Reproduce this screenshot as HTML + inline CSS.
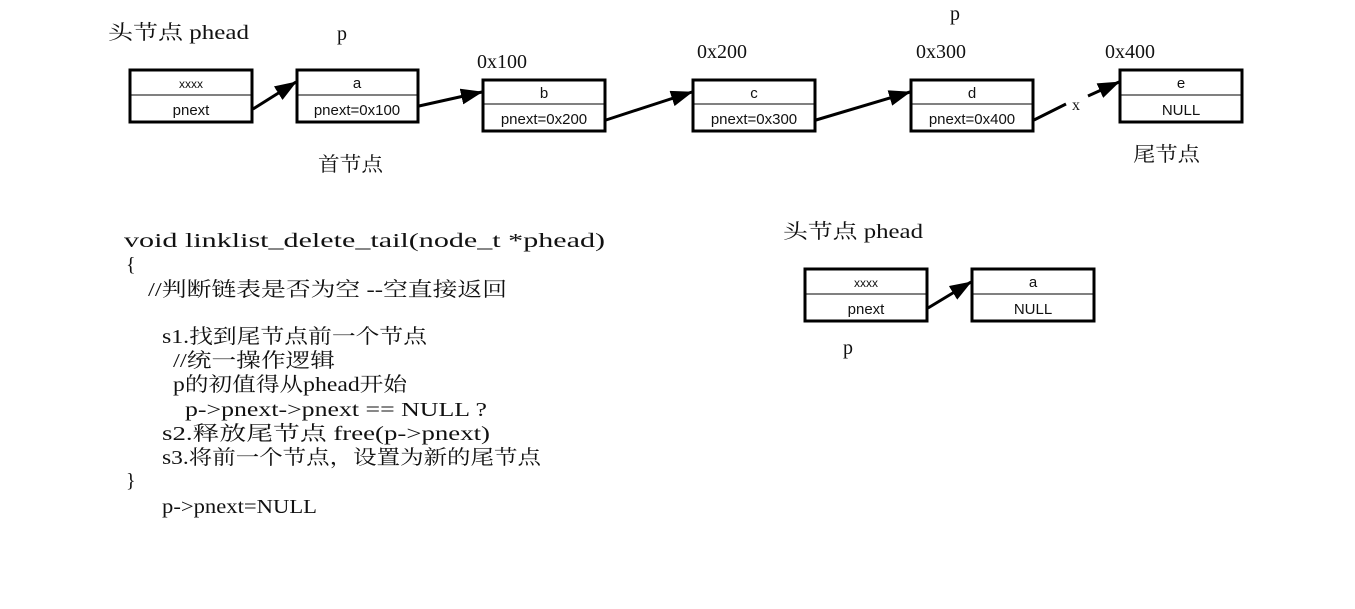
<!DOCTYPE html>
<html><head><meta charset="utf-8"><style>
html,body{margin:0;padding:0;background:#fff;}
svg{display:block;}
.s{font-family:"Liberation Serif","Noto Serif CJK SC",serif;fill:#111;}
.b{font-family:"Liberation Sans",sans-serif;fill:#111;font-size:15px;}
</style></head><body>
<svg width="1355" height="609" viewBox="0 0 1355 609" xmlns="http://www.w3.org/2000/svg">
<defs><marker id="ah" markerWidth="10" markerHeight="8" refX="9" refY="4" orient="auto" markerUnits="userSpaceOnUse" viewBox="0 0 10 8"><path d="M0,0 L10,4 L0,8 z" fill="#000"/></marker>
<marker id="ah2" markerWidth="22" markerHeight="16" refX="21" refY="8" orient="auto" markerUnits="userSpaceOnUse" viewBox="0 0 22 16"><path d="M0,0 L22,8 L0,16 z" fill="#000"/></marker></defs>
<g fill="none" stroke="#000">
<rect x="130" y="70" width="122" height="52" stroke-width="3"/><line x1="130" y1="95" x2="252" y2="95"/>
<rect x="297" y="70" width="121" height="52" stroke-width="3"/><line x1="297" y1="95" x2="418" y2="95"/>
<rect x="483" y="80" width="122" height="51" stroke-width="3"/><line x1="483" y1="104" x2="605" y2="104"/>
<rect x="693" y="80" width="122" height="51" stroke-width="3"/><line x1="693" y1="104" x2="815" y2="104"/>
<rect x="911" y="80" width="122" height="51" stroke-width="3"/><line x1="911" y1="104" x2="1033" y2="104"/>
<rect x="1120" y="70" width="122" height="52" stroke-width="3"/><line x1="1120" y1="95" x2="1242" y2="95"/>
<rect x="805" y="269" width="122" height="52" stroke-width="3"/><line x1="805" y1="294" x2="927" y2="294"/>
<rect x="972" y="269" width="122" height="52" stroke-width="3"/><line x1="972" y1="294" x2="1094" y2="294"/>
<g stroke-width="3">
<line x1="253" y1="109" x2="296" y2="82" marker-end="url(#ah2)"/>
<line x1="419" y1="106" x2="482" y2="92" marker-end="url(#ah2)"/>
<line x1="606" y1="120" x2="692" y2="92" marker-end="url(#ah2)"/>
<line x1="816" y1="120" x2="910" y2="92" marker-end="url(#ah2)"/>
<line x1="1034" y1="120" x2="1066" y2="104"/>
<line x1="1088" y1="96" x2="1119" y2="82" marker-end="url(#ah2)"/>
<line x1="928" y1="308" x2="971" y2="282" marker-end="url(#ah2)"/>
</g></g>
<g class="b" text-anchor="middle">
<text x="191" y="88" font-size="12">xxxx</text><text x="191" y="115">pnext</text>
<text x="357" y="88">a</text><text x="357" y="115">pnext=0x100</text>
<text x="544" y="98">b</text><text x="544" y="124">pnext=0x200</text>
<text x="754" y="98">c</text><text x="754" y="124">pnext=0x300</text>
<text x="972" y="98">d</text><text x="972" y="124">pnext=0x400</text>
<text x="1181" y="88">e</text><text x="1181" y="115">NULL</text>
<text x="866" y="287" font-size="12">xxxx</text><text x="866" y="314">pnext</text>
<text x="1033" y="287">a</text><text x="1033" y="314">NULL</text>
</g>
<g class="s" font-size="20">
<text x="108" y="39" textLength="141" lengthAdjust="spacingAndGlyphs">头节点 phead</text>
<text x="337" y="40">p</text>
<text x="477" y="68">0x100</text>
<text x="697" y="58">0x200</text>
<text x="916" y="58">0x300</text>
<text x="1105" y="58">0x400</text>
<text x="950" y="20">p</text>
<text x="1072" y="110" font-size="16">x</text>
<text x="318" y="171" textLength="65" lengthAdjust="spacingAndGlyphs">首节点</text>
<text x="1133" y="161" textLength="67" lengthAdjust="spacingAndGlyphs">尾节点</text>
<text x="783" y="238" textLength="140" lengthAdjust="spacingAndGlyphs">头节点 phead</text>
<text x="843" y="354">p</text>
<text x="124" y="247" textLength="481" lengthAdjust="spacingAndGlyphs">void linklist_delete_tail(node_t *phead)</text>
<text x="126" y="271">{</text>
<text x="148" y="296" textLength="359" lengthAdjust="spacingAndGlyphs">//判断链表是否为空 --空直接返回</text>
<text x="162" y="343" textLength="265" lengthAdjust="spacingAndGlyphs">s1.找到尾节点前一个节点</text>
<text x="173" y="367" textLength="162" lengthAdjust="spacingAndGlyphs">//统一操作逻辑</text>
<text x="173" y="391" textLength="234" lengthAdjust="spacingAndGlyphs">p的初值得从phead开始</text>
<text x="185" y="416" textLength="302" lengthAdjust="spacingAndGlyphs">p-&gt;pnext-&gt;pnext == NULL ?</text>
<text x="162" y="440" textLength="328" lengthAdjust="spacingAndGlyphs">s2.释放尾节点 free(p-&gt;pnext)</text>
<text x="162" y="464" textLength="379" lengthAdjust="spacingAndGlyphs">s3.将前一个节点，设置为新的尾节点</text>
<text x="126" y="487">}</text>
<text x="162" y="513" textLength="155" lengthAdjust="spacingAndGlyphs">p-&gt;pnext=NULL</text>
</g>
</svg>
</body></html>
